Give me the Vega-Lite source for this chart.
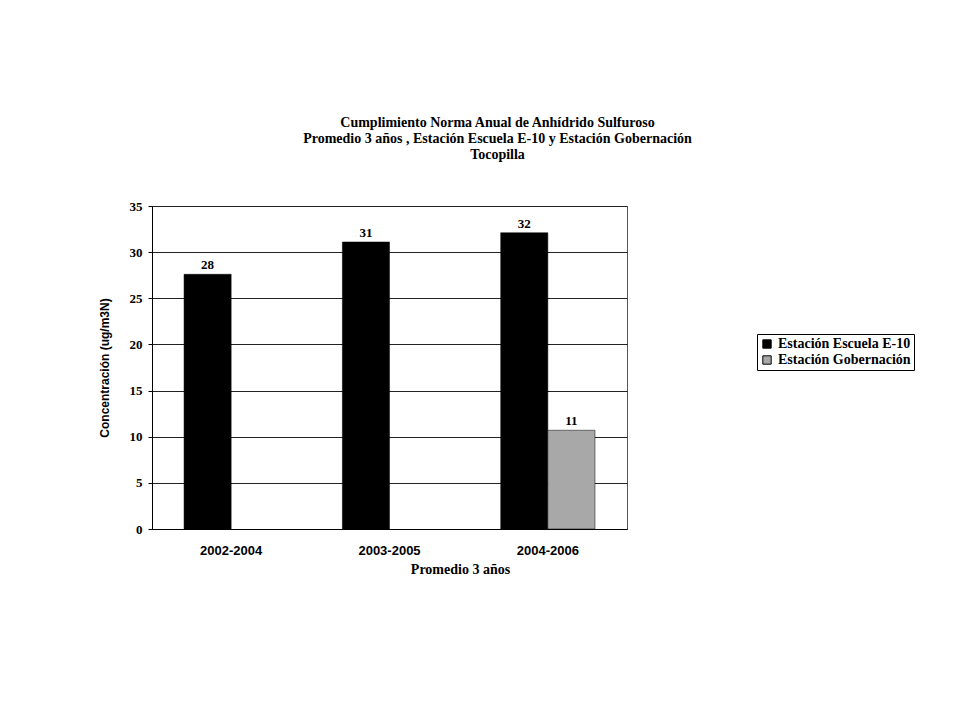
{
  "$schema": "https://vega.github.io/schema/vega-lite/v6.json",
  "width": 475,
  "height": 323,
  "autosize": {"type": "none"},
  "padding": {"left": 152, "top": 206, "right": 333, "bottom": 192},
  "background": "white",
  "title": {
    "text": ["Cumplimiento Norma Anual de Anhídrido Sulfuroso", "Promedio 3 años , Estación Escuela E-10 y Estación Gobernación", "Tocopilla"],
    "font": "Liberation Serif",
    "fontSize": 14,
    "fontWeight": "bold",
    "color": "black",
    "lineHeight": 16,
    "anchor": "middle",
    "dx": 108,
    "offset": 38
  },
  "data": {
    "values": [
      {"periodo": "2002-2004", "estacion": "Estación Escuela E-10", "valor": 27.6, "etiqueta": "28"},
      {"periodo": "2003-2005", "estacion": "Estación Escuela E-10", "valor": 31.1, "etiqueta": "31"},
      {"periodo": "2004-2006", "estacion": "Estación Escuela E-10", "valor": 32.1, "etiqueta": "32"},
      {"periodo": "2004-2006", "estacion": "Estación Gobernación", "valor": 10.7, "etiqueta": "11"}
    ]
  },
  "encoding": {
    "x": {
      "field": "periodo",
      "type": "nominal",
      "sort": ["2002-2004", "2003-2005", "2004-2006"],
      "scale": {"paddingInner": 0, "paddingOuter": 0},
      "axis": {
        "title": "Promedio 3 años",
        "titleFont": "Liberation Serif",
        "titleFontSize": 14,
        "titleFontWeight": "bold",
        "titleColor": "black",
        "titlePadding": 5,
        "titleX": 308,
        "labelFont": "Liberation Sans",
        "labelFontSize": 13,
        "labelFontWeight": "bold",
        "labelColor": "black",
        "labelAngle": 0,
        "labelPadding": 15,
        "ticks": false,
        "domainColor": "black",
        "grid": false
      }
    },
    "xOffset": {
      "field": "estacion",
      "type": "nominal",
      "scale": {"domain": ["Estación Escuela E-10", "Estación Gobernación"], "paddingInner": 0, "paddingOuter": 0.68}
    },
    "y": {
      "field": "valor",
      "type": "quantitative",
      "scale": {"domain": [0, 35], "nice": false},
      "axis": {
        "title": "Concentración (ug/m3N)",
        "titleFont": "Liberation Sans",
        "titleFontSize": 12,
        "titleFontWeight": "bold",
        "titleColor": "black",
        "titlePadding": 18,
        "values": [0, 5, 10, 15, 20, 25, 30, 35],
        "labelFont": "Liberation Serif",
        "labelFontSize": 13,
        "labelFontWeight": "bold",
        "labelColor": "black",
        "labelPadding": 6,
        "tickSize": 4,
        "tickColor": "black",
        "domainColor": "black",
        "gridColor": "#222222",
        "gridWidth": 1
      }
    }
  },
  "layer": [
    {
      "mark": {"type": "bar", "stroke": "black", "strokeWidth": 0.5},
      "encoding": {
        "color": {
          "field": "estacion",
          "type": "nominal",
          "scale": {"domain": ["Estación Escuela E-10", "Estación Gobernación"], "range": ["#000000", "#a8a8a8"]},
          "legend": {
            "title": null,
            "orient": "none",
            "legendX": 605,
            "legendY": 128,
            "symbolType": "square",
            "symbolSize": 70,
            "symbolStrokeColor": "black",
            "symbolStrokeWidth": 1,
            "labelFont": "Liberation Serif",
            "labelFontSize": 14,
            "labelFontWeight": "bold",
            "labelColor": "black",
            "strokeColor": "black",
            "padding": 3,
            "rowPadding": 2,
            "fillColor": "white"
          }
        }
      }
    },
    {
      "mark": {"type": "text", "baseline": "bottom", "dy": -2, "font": "Liberation Serif", "fontSize": 13, "fontWeight": "bold", "color": "black"},
      "encoding": {"text": {"field": "etiqueta"}}
    }
  ],
  "config": {"view": {"stroke": "#555555"}}
}
